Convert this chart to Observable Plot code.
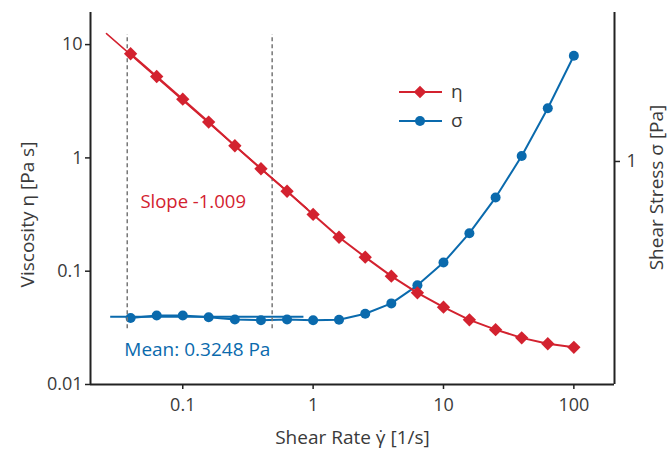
<!DOCTYPE html>
<html><head><meta charset="utf-8">
<script src="https://cdn.jsdelivr.net/npm/d3@7"></script>
<script src="https://cdn.jsdelivr.net/npm/@observablehq/plot@0.6"></script>
<style>
body{margin:0;background:#fff;}
#wrap{position:relative;width:672px;height:449px;font-family:"Open Sans",sans-serif;}
#wrap svg{position:absolute;left:0;top:0;overflow:visible;}
</style></head><body><div id="wrap"></div>
<script>
// ---- data ----
const shearRate = [0.0398,0.0631,0.1,0.158,0.251,0.398,0.631,1,1.58,2.51,3.98,6.31,10,15.8,25.1,39.8,63.1,100];
const viscosity = [8.30,5.23,3.30,2.07,1.28,0.802,0.508,0.317,0.1995,0.133,0.0904,0.0644,0.0481,0.0372,0.0305,0.0258,0.0229,0.0213];
const shearStress = [0.322,0.328,0.328,0.324,0.3185,0.317,0.3185,0.317,0.318,0.332,0.358,0.408,0.481,0.595,0.77,1.04,1.47,2.15];
const fitRate = [0.026, 0.9];
const fitViscosity = [12.5, 0.355];
const fitBounds = [0.0375, 0.485];
const meanRate = [0.028, 0.85];
const meanStress = 0.3248;
const xTicks = [0.1, 1, 10, 100];
const yTicks = [0.01, 0.1, 1, 10];
const y2Ticks = [1];
const slopeLabel = "Slope -1.009";
const meanLabel = "Mean: 0.3248 Pa";
const seriesNames = ["η", "σ"];

// ---- styling ----
const RED = "#d3222f", BLUE = "#0a6aad", AX = "#222", TXT = "#3a3a3a";
const W = 672, H = 449, mL = 90, mR = 58, mT = 12, mB = 65;
const xDomain = [0.0196, 205];
const font = '"Open Sans", sans-serif';
const LBL = 19;

const etaData = shearRate.map((x, i) => ({x, y: viscosity[i]}));
const sigData = shearRate.map((x, i) => ({x, y: shearStress[i]}));
const fitData = fitRate.map((x, i) => ({x, y: fitViscosity[i]}));

const common = {width: W, height: H, marginLeft: mL, marginRight: mR, marginTop: mT, marginBottom: mB,
  style: {fontFamily: font, fontSize: "18px", color: TXT, background: "transparent", overflow: "visible"}};

// sigma plot (right axis)
const p2 = Plot.plot({
  ...common,
  x: {type: "log", domain: xDomain, axis: null},
  y: {type: "log", domain: [0.199, 2.94], axis: null},
  marks: [
    Plot.ruleX([xDomain[1]], {stroke: AX, strokeWidth: 2}),
    Plot.axisY(y2Ticks, {anchor: "right", tickSize: 5, tickPadding: 7, tickFormat: d => String(d), label: null, stroke: AX, strokeWidth: 1.5, fill: TXT}),
    Plot.text(["Shear Stress σ [Pa]"], {frameAnchor: "right", rotate: -90, dx: 42, dy: -11, textAnchor: "middle", lineAnchor: "middle", fill: TXT, fontSize: LBL}),
    Plot.ruleY([meanStress], {x1: meanRate[0], x2: meanRate[1], stroke: BLUE, strokeWidth: 2}),
    Plot.line(sigData, {x: "x", y: "y", stroke: BLUE, strokeWidth: 2}),
    Plot.dot(sigData, {x: "x", y: "y", r: 5, fill: BLUE}),
    Plot.text([meanLabel], {x: 0.0356, y: 0.2564, text: d => d, textAnchor: "start", fill: BLUE, fontSize: 19})
  ]
});

// eta plot (left axis)
const p1 = Plot.plot({
  ...common,
  x: {type: "log", domain: xDomain},
  y: {type: "log", domain: [0.01, 19.2]},
  marks: [
    Plot.ruleX(fitBounds, {y1: 0.031, y2: 12.3, stroke: "#777", strokeWidth: 1.5, strokeDasharray: "4,3"}),
    Plot.ruleX([xDomain[0]], {stroke: AX, strokeWidth: 2}),
    Plot.ruleY([0.01], {stroke: AX, strokeWidth: 2}),
    Plot.axisX(xTicks, {tickSize: 5, tickPadding: 9, tickFormat: d => String(d), label: null, stroke: AX, strokeWidth: 1.5, fill: TXT}),
    Plot.axisY(yTicks, {anchor: "left", tickSize: 5, tickPadding: 3, tickFormat: d => String(d), label: null, stroke: AX, strokeWidth: 1.5, fill: TXT}),
    Plot.text(["Viscosity η [Pa s]"], {frameAnchor: "left", rotate: -90, dx: -63, dy: 16, textAnchor: "middle", lineAnchor: "middle", fill: TXT, fontSize: LBL}),
    Plot.text(["Shear Rate γ̇ [1/s]"], {frameAnchor: "bottom", dy: 53, lineAnchor: "middle", fill: TXT, fontSize: LBL}),
    Plot.line(fitData, {x: "x", y: "y", stroke: RED, strokeWidth: 1.5}),
    Plot.line(etaData, {x: "x", y: "y", stroke: RED, strokeWidth: 2}),
    Plot.dot(etaData, {x: "x", y: "y", r: 6, symbol: "diamond2", fill: RED}),
    Plot.text([slopeLabel], {x: 0.0473, y: 0.404, text: d => d, textAnchor: "start", fill: RED, fontSize: 18.5})
  ]
});

const wrap = document.getElementById("wrap");
wrap.appendChild(p2);
wrap.appendChild(p1);

// legend
const leg = d3.select(wrap).append("svg").attr("width", W).attr("height", H);
const items = [{name: seriesNames[0], color: RED, sym: d3.symbolDiamond2, y: 92}, {name: seriesNames[1], color: BLUE, sym: d3.symbolCircle, y: 121}];
items.forEach(it => {
  const g = leg.append("g").attr("transform", `translate(0,${it.y})`);
  g.append("line").attr("x1", 399).attr("x2", 442).attr("stroke", it.color).attr("stroke-width", 2);
  g.append("path").attr("transform", "translate(420,0)").attr("d", d3.symbol(it.sym, it.sym === d3.symbolCircle ? 78 : 100)()).attr("fill", it.color);
  g.append("text").attr("x", 451).attr("dy", "0.32em").attr("fill", TXT).attr("font-family", font).attr("font-size", 19).text(it.name);
});
</script>
</body></html>
